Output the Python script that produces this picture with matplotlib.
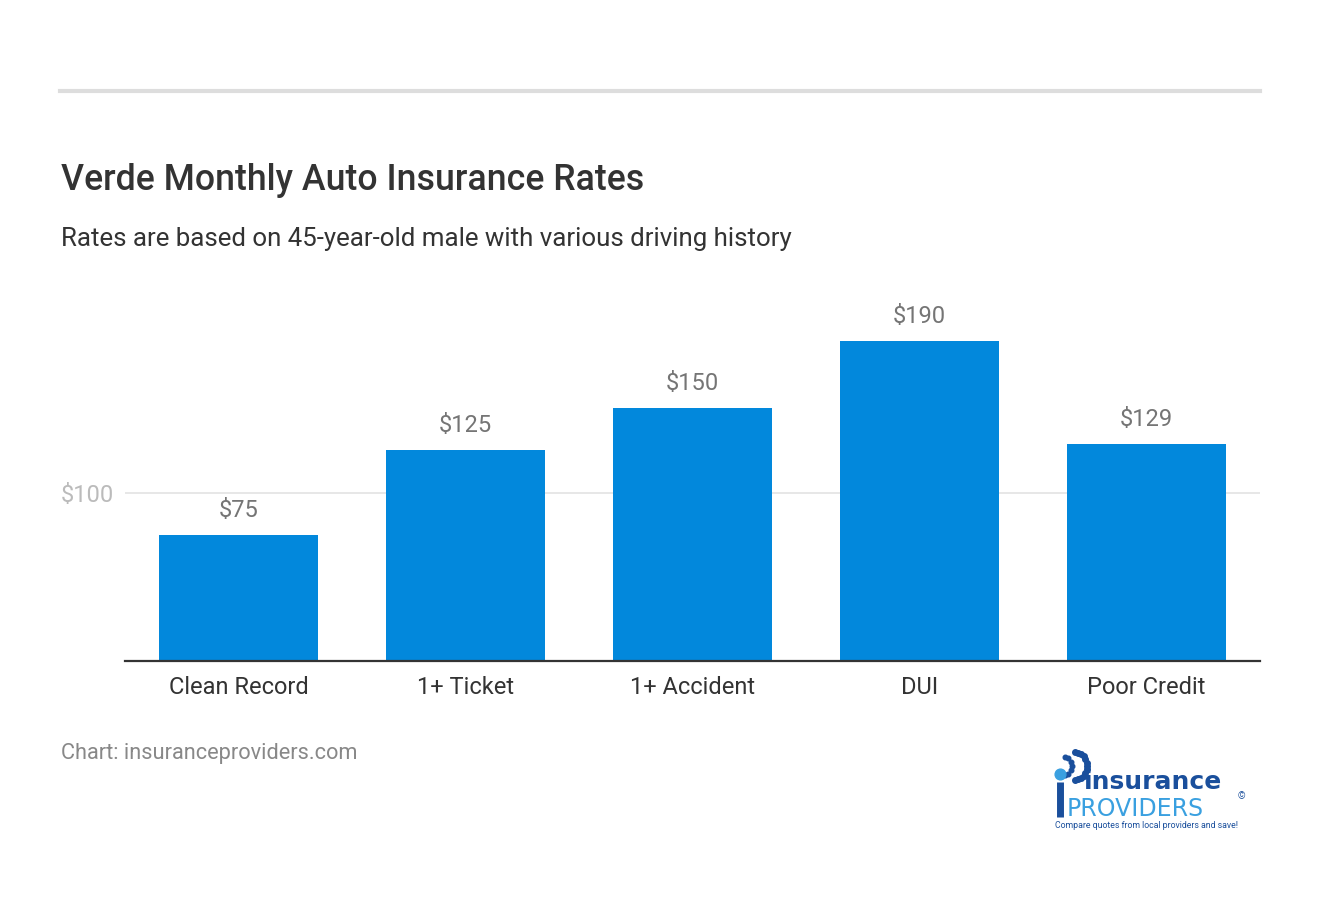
import numpy as np
import matplotlib
matplotlib.use("Agg")
from matplotlib import pyplot as plt
from matplotlib.lines import Line2D

plt.rcParams['font.family'] = ['Roboto', 'DejaVu Sans']

categories = ['Clean Record', '1+ Ticket', '1+ Accident', 'DUI', 'Poor Credit']
rates = [75, 125, 150, 190, 129]
ytick_values = [100]
ytick_labels = ['$100']

W, H = 1320, 920
fig = plt.figure(figsize=(W / 100, H / 100), dpi=100)

# axes placed in pixel terms: x 125..1260, baseline at y=662, 200 at ~325
ax = fig.add_axes([125 / W, 1 - 662 / H, (1260 - 125) / W, (662 - 325) / H])
x = np.arange(len(categories))
ax.bar(x, rates, width=0.7, color='#0288DC', zorder=3)
ax.set_xlim(-0.5, len(categories) - 0.5)
ax.set_ylim(0, 200)
ax.set_yticks(ytick_values)
ax.set_yticklabels(ytick_labels)
ax.set_xticks(x)
ax.set_xticklabels(categories)
ax.grid(axis='y', color='#e3e3e3', linewidth=1.2, zorder=0)
for s in ['top', 'right', 'left']:
    ax.spines[s].set_visible(False)
ax.spines['bottom'].set_color('#333333')
ax.spines['bottom'].set_linewidth(1.6)
ax.spines['bottom'].set_zorder(4)
ax.tick_params(axis='y', length=0, pad=8, labelsize=17, labelcolor='#bbbbbb')
ax.tick_params(axis='x', length=0, pad=10, labelsize=17, labelcolor='#333333')

for xi, v in zip(x, rates):
    ax.annotate('$%d' % v, (xi, v), xytext=(0, 10), textcoords='offset points',
                ha='center', va='bottom', fontsize=17, color='#757575')

# header
fig.add_artist(Line2D([60 / W, 1260 / W], [1 - 92 / H, 1 - 92 / H],
                      color='#dddddd', linewidth=3))
fig.text(61 / W, 1 - 180 / H, 'Verde Monthly Auto Insurance Rates', fontsize=25.7,
         fontweight='medium', color='#333333', va='center', ha='left')
fig.text(61 / W, 1 - 239 / H, 'Rates are based on 45-year-old male with various driving history',
         fontsize=18.6, color='#333333', va='center', ha='left')
fig.text(61 / W, 1 - 754 / H, 'Chart: insuranceproviders.com', fontsize=15.7,
         color='#888888', va='center', ha='left')

# logo (pixel coords inside a small axes: x 1050..1250, y 745..835)
lax = fig.add_axes([1050 / W, 1 - 835 / H, 200 / W, 90 / H])
lax.set_xlim(1050, 1250)
lax.set_ylim(835, 745)
lax.axis('off')
t = np.linspace(-1.5, 1.5, 13)
lax.scatter(1074 + 13 * np.cos(t), 767 + 14 * np.sin(t), s=16, color='#1a4f9c')
lax.scatter(1064 + 8 * np.cos(t[::2]), 767 + 9 * np.sin(t[::2]), s=11, color='#1a4f9c')
lax.scatter([1060], [775], s=60, color='#3aa0e0')
lax.plot([1060, 1060], [783, 818], color='#1a4f9c', linewidth=5, solid_capstyle='butt')
lax.text(1084, 782, 'insurance', fontsize=18, fontweight='bold', color='#1a4f9c',
         family='DejaVu Sans', va='center', ha='left')
lax.text(1067, 809, 'PROVIDERS', fontsize=17, color='#3aa0e0',
         family='DejaVu Sans', va='center', ha='left')
lax.text(1238, 796, '©', fontsize=7, color='#1a4f9c', va='center', ha='left')
lax.text(1055, 826, 'Compare quotes from local providers and save!', fontsize=6.3,
         color='#1a4f9c', va='center', ha='left')

fig.savefig('out.png', dpi=100, facecolor='white')
